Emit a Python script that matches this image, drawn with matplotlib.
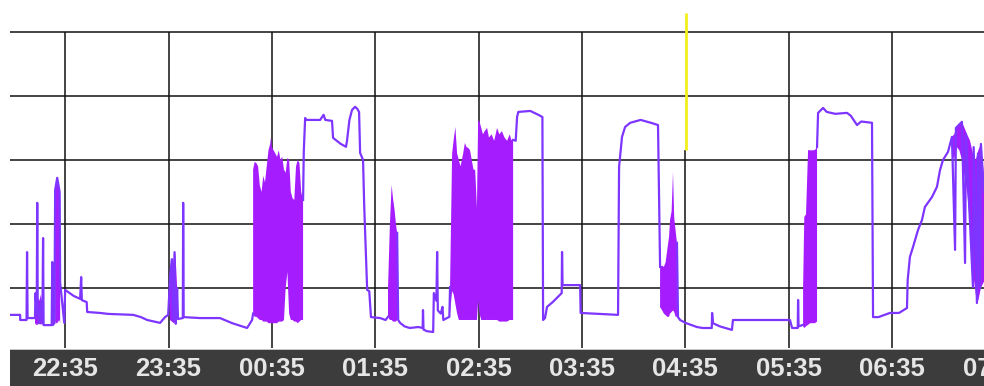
import numpy as np
import matplotlib
matplotlib.use("Agg")
import matplotlib.pyplot as plt
from matplotlib.patches import Rectangle

nan = np.nan

# minutes after 22:35 and sleep level (gridlines at 20..100); nan = switching stretch below
trace_min = [-32, -26.1, -26.1, -22.4, -22.1, -21.8, -17.5, -17.2, -16.5, -16.2, -15.9, -15, -14, -13.2,
             -12.8, -12.5, -7.8, -7.5, -7.2, -6.2, -5.8, -4.6, -3.2, -2.9, -0.5,
             0, 5, 8.7, 9.3, 9.7, 12.5, 12.8, 20.3, 25, 39.5, 44, 47.6, 55.1, 58, 59.8,
             61, 62, 62.5, 63.5, 64.2, 65, 65.5, 68.3, 68.5, 68.8, 78.3, 89.9, 97, 105.6, 108.5,
             109.1, nan, 138.1, 138.5, 139.3, 139.9, 148, 150, 151, 154.9, 155.5, 157, 160, 163, 163.6,
             165, 166.5, 168.3, 169.5, 170.6, 171.2, 172.9, 173.6, 175.3, 176.5, 177.5, 182.8, 186, 187.4,
             nan, 192.7, 193.3, 194.4, 197, 200, 205, 207.5, 207.7, 208, 210, 213.6, 214, 215.5, 215.9,
             216.3, 218, 219, 219.5, 223, 223.4,
             nan, 260, 261.5, 262.3, 263, 270, 275, 277, 277.4, 278.5, 279.7, 283, 286, 288.2, 288.4,
             288.7, 298.9, 299.2, 310, 320.9, 321.5, 323.2, 325, 328, 334, 340, 344.1, 345.3,
             nan, 355.1, 355.7, 356.9, 360, 366.7, 370, 375.3, 375.5, 376, 380, 387, 387.6, 420.7,
             421.9, 425.2, 425.4, 425.7, 428.3,
             nan, 436.4, 437, 439.9, 442, 447, 453.8, 456, 459.6, 462, 468.3, 468.9, 472, 478.7, 484,
             488.6, 489, 490.3, 492.1, 495, 497.3, 499, 503.1, 506, 507.8, 509.5, 512.4, 514.7,
             516.5, 517, 520.5, 522.3, 522.8, 526.9, 527.3, 529.2, 529.8, 531, 531.5, 533.3]
trace_level = [11.6, 11.6, 10.0, 10.0, 31.2, 10.6, 10.6, 18.4, 12, 46.6, 12, 9, 16, 9,
               35.6, 8.4, 8.4, 28.1, 8.4, 9, 50.6, 54.4, 50, 21.6, 9.1,
               19.4, 17.5, 16.6, 23.4, 16.2, 15.6, 12.5, 12.2, 11.9, 11.6, 10.9, 10.0, 9.1, 10.9, 11.6,
               24, 29, 10, 31.2, 8.8, 20, 10.3, 10.6, 46.6, 10.9, 10.6, 10.6, 9.0, 7.5, 10.0,
               12, nan, 47.5, 62.5, 73.1, 72.5, 72.5, 74.1, 72.5, 72.2, 66.9, 66.25, 65.0, 64.1, 66,
               72.5, 75.6, 76.6, 76, 75, 62.2, 60, 45.3, 19.4, 19.0, 10.9, 10.6, 10, 11,
               nan, 37.2, 10, 9.1, 8.0, 7.5, 7.8, 7.5, 13.1, 7.0, 6.5, 6.25, 18.4, 16, 31.25,
               13, 12, 14.1, 10, 11, 20.3,
               nan, 66.25, 66, 73.4, 75, 75.3, 74, 73.4, 10, 10.6, 14.1, 15.6, 17.2, 18.4, 31.25,
               20.9, 20.9, 12.2, 11.9, 11.6, 57.8, 67.2, 70.3, 71.6, 72.5, 71.6, 70.9, 26.6,
               nan, 34.1, 10.9, 10.0, 9.1, 7.8, 7.5, 7.5, 12.2, 9, 8, 6.9, 10, 10,
               7.5, 7.5, 16.25, 8, 8.5,
               nan, 64, 74.7, 76.25, 75, 74.4, 74.7, 73.8, 70.9, 72, 71.6, 10.9, 10.9, 12.2, 12.2,
               13.75, 22.5, 29.7, 32.8, 38.1, 41.25, 45.3, 48.4, 51.6, 56.9, 60, 62.5, 67.2,
               31.9, 70, 71.9, 27.8, 68, 20.3, 64, 15.3, 62, 20, 65, 50]

# rapid-switching stretches: time, upper and lower envelope (nan separates them)
burst_min = [-17.5, -16.8, -16, -15, -14, -13.3, nan,
             -5.8, -5.2, -4.6, -4.0, -3.4, -2.9, nan,
             60.8, 62, 63, 64, 65, nan,
             109.1, 110, 111, 112, 113, 114, 115, 116, 117, 118, 119, 119.5, 120, 121, 122, 123,
             124, 125, 126, 127, 128, 129, 130, 131, 132, 133, 134, 135, 136, 137, 138.1, nan,
             187.4, 188.5, 189.5, 190.3, 191.2, 192, 192.7, nan,
             223.4, 224.6, 225.5, 226.5, 227.5, 228.5, 229.5, 231, 232, 233, 234, 235, 236, 237,
             238, 239, 239.7, 240.5, 241.5, 242.5, 243.5, 244.9, 246, 247.5, 249, 250.7, 252,
             253.5, 255, 256.5, 258, 259, 260, nan,
             345.3, 346.5, 347.5, 348.5, 349.5, 350.5, 351.1, 352, 352.8, 353.5, 354.3, 355.1, nan,
             428.3, 429, 430, 431.2, 432.5, 434, 435.2, 436.4, nan,
             514.7, 516, 517.5, 519, 520.5, 522, 523.5, 525.2, 526.9, 528.5, 530, 531.5, 533.3]
burst_hi = [16, 18.4, 17, 16, 18, 14, nan,
            50.6, 52.5, 54.4, 52, 50.6, 48, nan,
            22, 29, 25, 31.2, 20, nan,
            57, 59.4, 59, 58, 52, 50, 55, 53, 58, 63, 65, 67.2, 64, 63, 62, 61,
            63, 60, 61, 57, 56, 60.6, 60, 50, 48, 47.5, 58, 60, 59, 50, 47.5, nan,
            20, 40, 52.2, 48, 44.4, 40, 37.2, nan,
            20.3, 62, 66.25, 70.3, 62, 60, 58, 62, 65.3, 64, 63.75, 63, 60, 57,
            56.9, 45, 72.5, 72, 70, 68, 69, 70, 67, 68, 66, 70, 68,
            69, 67, 66, 68, 66.25, 66.25, nan,
            26.6, 27, 26.6, 28, 32, 36, 41.25, 44, 56.25, 42, 38, 34.1, nan,
            20, 42.2, 43, 63.1, 63, 63, 63.1, 64, nan,
            67.2, 68, 70, 71, 71.9, 70, 68, 66, 62, 60, 63, 65, 55]
burst_lo = [9, 8.5, 8.5, 9, 8.5, 9, nan,
            9.5, 9, 9, 9.5, 10, 9, nan,
            10, 9.5, 9, 9.5, 10, nan,
            12, 11, 11, 10.5, 10, 10, 9.5, 9.5, 9.5, 9, 9, 9, 9, 9, 9, 9,
            9.5, 9.5, 9.5, 10, 20, 25, 12, 10, 10, 9.5, 9.5, 9, 9.5, 10, 10, nan,
            11, 10, 10, 9.5, 9.5, 9.5, 10, nan,
            12, 19, 18, 15, 12, 10, 10, 10, 10, 10, 10, 10, 10, 10,
            10, 10, 16, 12, 10, 10, 10, 10, 10, 10, 10, 10, 9.5,
            9.5, 9.5, 9.5, 10, 10, 10, nan,
            14, 13, 12, 11.5, 11, 11, 12, 12.5, 13, 12.5, 11, 11, nan,
            8, 7.5, 8, 8.5, 9, 9, 9, 9.5, nan,
            62, 60, 64, 63, 60, 55, 50, 40, 25, 18, 16, 20, 22]

hour_min = [0, 60, 120, 180, 240, 300, 360, 420, 480, 540]
hour_labels = ["22:35", "23:35", "00:35", "01:35", "02:35", "03:35", "04:35", "05:35", "06:35", "07:35"]
grid_levels = [20, 40, 60, 80, 100]
now_min = 360.4
now_from = 63.1

fig = plt.figure(figsize=(9.84, 3.86), dpi=100)
ax = fig.add_axes([10 / 984, 38 / 386, 974 / 984, 335 / 386])
ax.set_xlim(-32, 533.3)
ax.set_ylim(1.25, 105.9)
ax.axis("off")

ax.hlines(grid_levels, -32, 533.3, color="#111111", lw=1.1, zorder=1)
tops = [now_from if m == 360 else 100 for m in hour_min]
ax.vlines(hour_min, 1.25, tops, color="#111111", lw=1.1, zorder=1)

bt = np.array(burst_min)
ax.fill_between(bt, burst_lo, burst_hi, where=~np.isnan(bt), color="#a51dff", lw=0, zorder=2)
ax.plot(trace_min, trace_level, color="#7d35ff", lw=1.6, zorder=3)

ax.vlines([now_min], now_from, 105.9, color="#f2ee1a", lw=2.0, zorder=4)

# time strip under the plot
fig.add_artist(Rectangle((10 / 984, 0), 1, 36 / 386, transform=fig.transFigure,
                         color="#3c3c3c", lw=0, zorder=-1))
fig.add_artist(Rectangle((10 / 984, 36 / 386), 1, 1.2 / 386, transform=fig.transFigure,
                         color="#c4c4c4", lw=0, zorder=-1))
trans = ax.get_xaxis_transform()
for m, lab in zip(hour_min, hour_labels):
    ax.text(m, -0.062, lab, transform=trans, ha="center", va="center",
            color="#e6e6e6", fontsize=18.5, fontweight="bold",
            family="Liberation Sans", clip_on=False, zorder=10)

fig.savefig("out.png", dpi=100)
